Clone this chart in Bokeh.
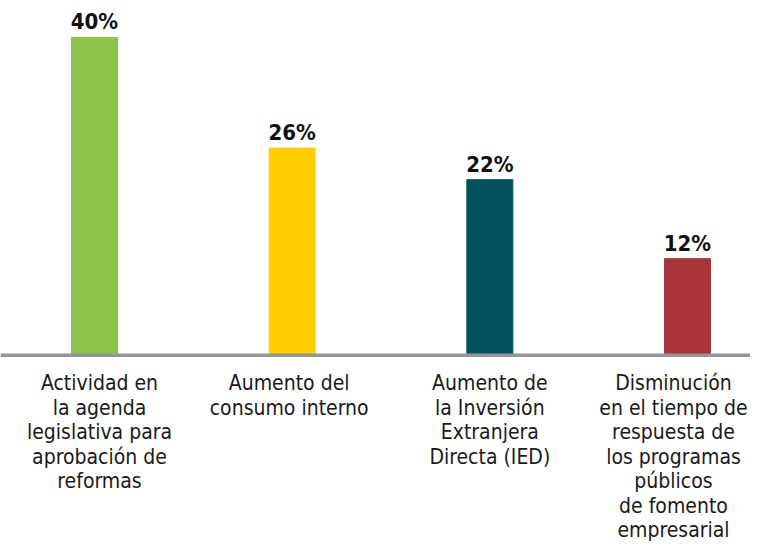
from bokeh.plotting import figure
from bokeh.models import ColumnDataSource, Span, Range1d
from bokeh.core.properties import value
from bokeh.embed import file_html
from bokeh.resources import INLINE

categories = [
    "Actividad en\nla agenda\nlegislativa para\naprobación de\nreformas",
    "Aumento del\nconsumo interno",
    "Aumento de\nla Inversión\nExtranjera\nDirecta (IED)",
    "Disminución\nen el tiempo de\nrespuesta de\nlos programas\npúblicos\nde fomento\nempresarial",
]
values = [40, 26, 22, 12]
colors = ["#8bc54b", "#ffcd00", "#02535f", "#a9343a"]
value_labels = [f"{v}%" for v in values]

positions = list(range(len(categories)))
label_shift = [5, -3, 0, -14]  # small horizontal nudges of the category labels (px)

src = ColumnDataSource(dict(
    x=positions, top=values, color=colors, cat=categories, vlab=value_labels,
    dx=label_shift,
))

p = figure(width=750, height=546, output_backend="svg", toolbar_location=None,
           x_range=Range1d(-0.4755, 3.3187), y_range=Range1d(-24.43, 44.68),
           min_border=0, outline_line_color=None)
p.axis.visible = False
p.grid.visible = False
p.background_fill_color = "white"
p.border_fill_color = "white"

p.vbar(x="x", top="top", bottom=0, width=0.2327, color="color", source=src)

p.add_layout(Span(location=-0.23, dimension="width", line_color="#939598", line_width=3.5))

font = value("DejaVu Sans Condensed")

p.text(x="x", y="top", text="vlab", source=src, text_align="center",
       text_baseline="bottom", y_offset=-3, text_font=font,
       text_font_style="bold", text_font_size="22px", text_color="#111111")

p.text(x="x", y=0, text="cat", source=src, text_align="center",
       text_baseline="top", x_offset="dx", y_offset=18, text_font=font,
       text_font_size="21px", text_color="#1a1a1a", text_line_height=1.02)

open("out.html", "w").write(file_html(p, INLINE))
